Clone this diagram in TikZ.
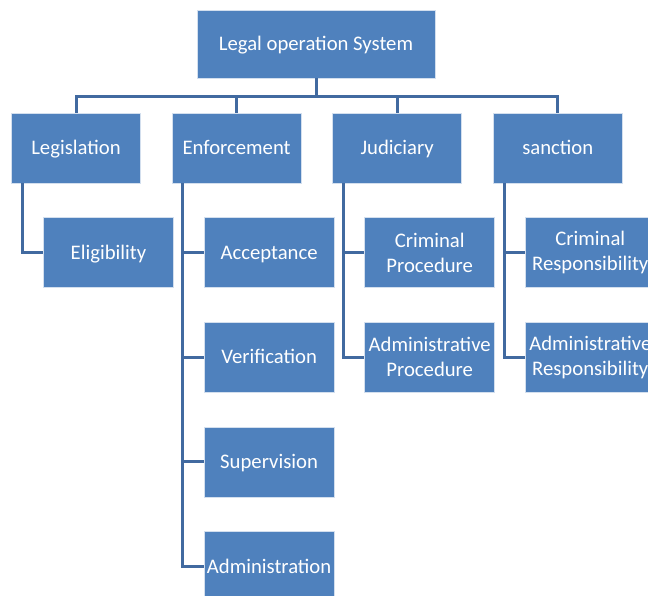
\documentclass[tikz,border=0pt]{standalone}
\usepackage{fontspec}
\setmainfont{Carlito}
\usetikzlibrary{positioning}
\definecolor{boxblue}{RGB}{79,129,189}
\definecolor{lineblue}{RGB}{65,106,160}
\tikzset{
  orgbox/.style={rectangle,draw=white!75!boxblue,line width=0.6pt,fill=boxblue,
                 text=white,minimum width=#1,minimum height=70pt,inner sep=2pt,
                 align=center,font=\fontsize{20.7}{25}\selectfont},
  orgbox/.default=130pt,
  oneline/.style={text height=15pt,text depth=1.6pt},
  link/.style={draw=lineblue,line width=3pt},
}
\begin{document}
\begin{tikzpicture}[x=1pt,y=-1pt]
    \useasboundingbox (0,0) rectangle (648,596);
    \clip (0,0) rectangle (648,596);
    \node[orgbox=238pt,oneline,minimum height=68pt] (legal) at (316,44) {Legal operation System};
    \node[orgbox=129pt,oneline] (legis) at (76,148) {Legislation};
    \node[orgbox=129pt,oneline,right=31pt of legis] (enforce) {Enforcement};
    \node[orgbox=129pt,oneline,right=31pt of enforce] (judic) {Judiciary};
    \node[orgbox=129pt,oneline,right=31pt of judic] (sanct) {sanction};
    \node[orgbox,oneline,below right=34pt and 32pt of legis.south west] (elig) {Eligibility};
    \node[orgbox,oneline,below right=34pt and 32pt of enforce.south west] (accept) {Acceptance};
    \node[orgbox,oneline,below=34pt of accept] (verif) {Verification};
    \node[orgbox,oneline,below=34pt of verif] (superv) {Supervision};
    \node[orgbox,oneline,below=34pt of superv] (admin) {Administration};
    \node[orgbox,below right=34pt and 32pt of judic.south west] (crimproc) {Criminal\\Procedure};
    \node[orgbox,below=34pt of crimproc] (adminproc) {Administrative\\Procedure};
    \node[orgbox,below right=34pt and 32pt of sanct.south west] (crimresp) {Criminal\\Responsibility};
    \node[orgbox,below=34pt of crimresp] (adminresp) {Administrative\\Responsibility};
    \draw[link] (legal.south) -- ++(0,18) coordinate (bus);
    \foreach \n in {legis,enforce,judic,sanct}
      \draw[link] (bus) -| (\n.north);
    \draw[link] ([xshift=11pt]legis.south west) |- (elig.west);
    \foreach \n in {accept,verif,superv,admin}
      \draw[link] ([xshift=11pt]enforce.south west) |- (\n.west);
    \foreach \n in {crimproc,adminproc}
      \draw[link] ([xshift=11pt]judic.south west) |- (\n.west);
    \foreach \n in {crimresp,adminresp}
      \draw[link] ([xshift=11pt]sanct.south west) |- (\n.west);
\end{tikzpicture}
\end{document}
